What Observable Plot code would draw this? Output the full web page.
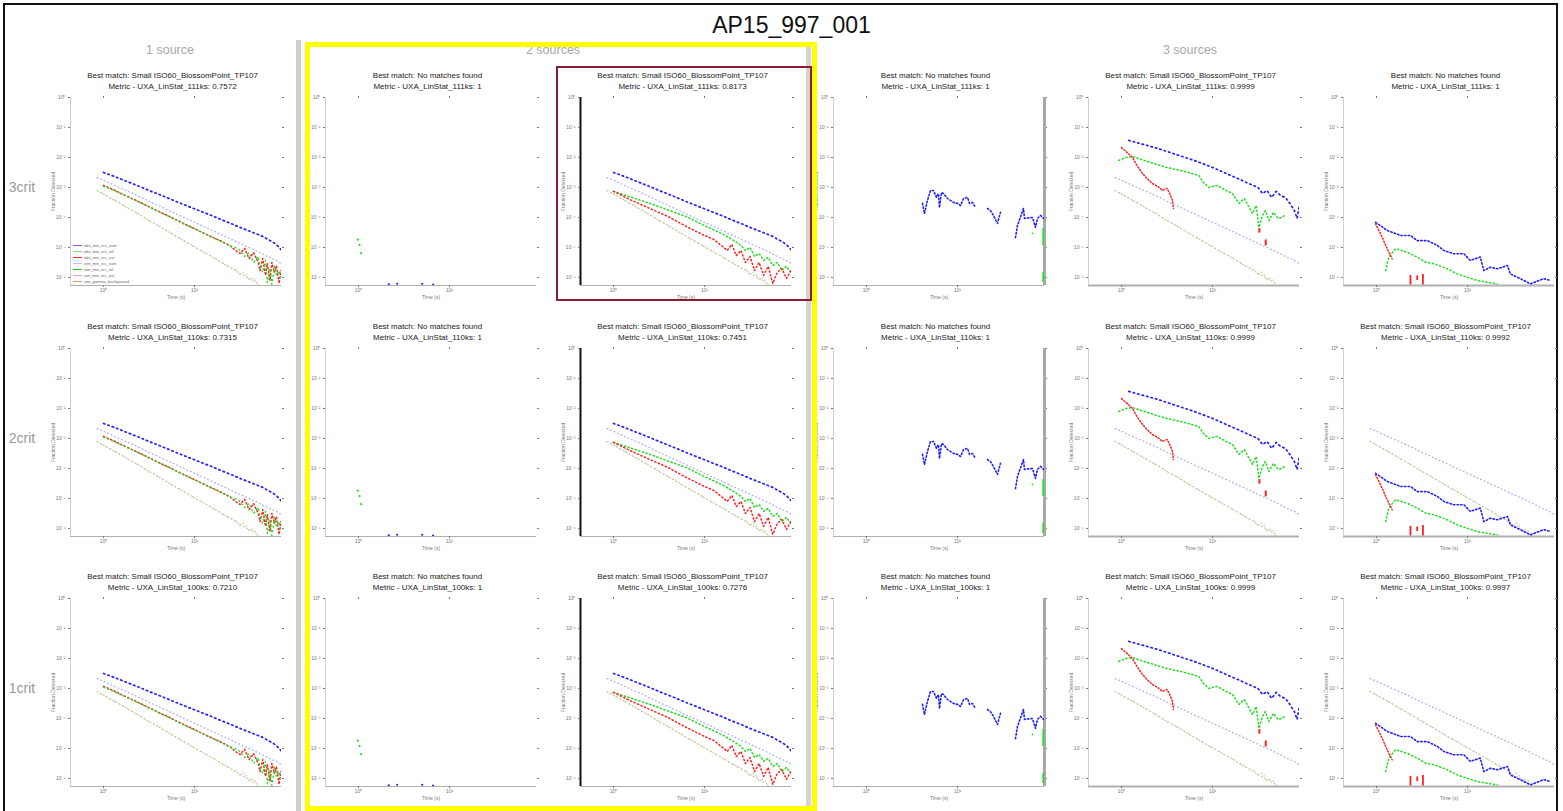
<!DOCTYPE html>
<html><head><meta charset="utf-8">
<script src="https://cdn.jsdelivr.net/npm/d3@7"></script>
<script src="https://cdn.jsdelivr.net/npm/@observablehq/plot@0.6"></script>
<style>
html,body{margin:0;padding:0;background:#fff;}
#page{position:relative;width:1563px;height:811px;overflow:hidden;background:#fff;font-family:"Liberation Sans",Arial,sans-serif;}
svg{overflow:visible;}
</style></head>
<body><div id="page"></div>
<script>
// ---------- text ----------
const figTitle = "AP15_997_001";
const rowLabels = ["3crit", "2crit", "1crit"];
const sourceHeaders = ["1 source", "2 sources", "3 sources"];
const metricNames = ["UXA_LinStat_111ks", "UXA_LinStat_110ks", "UXA_LinStat_100ks"];
const bestMatches = [
  ["Small ISO60_BlossomPoint_TP107", "No matches found", "Small ISO60_BlossomPoint_TP107", "No matches found", "Small ISO60_BlossomPoint_TP107", "No matches found"],
  ["Small ISO60_BlossomPoint_TP107", "No matches found", "Small ISO60_BlossomPoint_TP107", "No matches found", "Small ISO60_BlossomPoint_TP107", "Small ISO60_BlossomPoint_TP107"],
  ["Small ISO60_BlossomPoint_TP107", "No matches found", "Small ISO60_BlossomPoint_TP107", "No matches found", "Small ISO60_BlossomPoint_TP107", "Small ISO60_BlossomPoint_TP107"]
];
const metricValues = [
  ["0.7572", "1", "0.8173", "1", "0.9999", "1"],
  ["0.7315", "1", "0.7451", "1", "0.9999", "0.9992"],
  ["0.7210", "1", "0.7276", "1", "0.9999", "0.9997"]
];
const legendLabels = ["obs_min_src_sum", "obs_min_src_ref", "obs_min_src_evt", "sim_min_src_sum", "sim_min_src_ref", "sim_min_src_evt", "sim_gamma_background"];
const xLabel = "Time (s)";
const yLabel = "Fraction Detected";

// ---------- scales ----------
const xTicks = [1, 10];
const yTicks = [1e-6, 1e-5, 1e-4, 1e-3, 1e-2, 1e-1, 1];
const xDomain = [0.4335, 90.4];
const yDomain = [5.4e-7, 1];

// ---------- series: [log10 time, log10 fraction] ----------
const darkBlueA = [[0,-2.5],[0.1,-2.61],[0.2,-2.73],[0.3,-2.85],[0.4,-2.97],[0.5,-3.1],[0.6,-3.22],[0.7,-3.34],[0.8,-3.47],[0.9,-3.59],[1.0,-3.71],[1.1,-3.83],[1.2,-3.95],[1.3,-4.08],[1.4,-4.2],[1.5,-4.33],[1.6,-4.45],[1.7,-4.57],[1.75,-4.63],[1.8,-4.72],[1.85,-4.8],[1.9,-4.9],[1.95,-5.07]];
const lightBlueA = [[-0.07,-2.67],[0,-2.76],[0.1,-2.9],[0.2,-3.04],[0.3,-3.17],[0.4,-3.31],[0.5,-3.46],[0.6,-3.6],[0.7,-3.74],[0.8,-3.88],[0.9,-4.02],[1.0,-4.16],[1.1,-4.3],[1.2,-4.44],[1.3,-4.58],[1.4,-4.72],[1.5,-4.86],[1.6,-5.0],[1.7,-5.14],[1.8,-5.3],[1.9,-5.43],[1.95,-5.53]];
const redA = [[0,-2.93],[0.1,-3.06],[0.2,-3.21],[0.3,-3.35],[0.4,-3.49],[0.5,-3.64],[0.6,-3.79],[0.7,-3.93],[0.8,-4.08],[0.9,-4.23],[1.0,-4.37],[1.1,-4.52],[1.2,-4.66],[1.3,-4.8],[1.4,-4.96],[1.45,-5.1],[1.5,-5.2],[1.55,-5.03],[1.6,-5.37],[1.65,-5.17],[1.7,-5.5],[1.72,-5.77],[1.75,-5.37],[1.78,-5.93],[1.8,-5.53],[1.83,-6.1],[1.85,-5.5],[1.88,-5.83],[1.9,-5.6],[1.93,-6.2],[1.95,-5.77]];
const greenA = [[0,-2.96],[0.1,-3.08],[0.2,-3.22],[0.3,-3.36],[0.4,-3.5],[0.5,-3.65],[0.6,-3.8],[0.7,-3.94],[0.8,-4.09],[0.9,-4.24],[1.0,-4.38],[1.1,-4.53],[1.2,-4.67],[1.3,-4.81],[1.4,-4.97],[1.45,-5.0],[1.5,-5.1],[1.55,-5.3],[1.6,-5.17],[1.65,-5.5],[1.7,-5.3],[1.72,-5.63],[1.75,-5.83],[1.78,-5.43],[1.8,-6.17],[1.83,-5.7],[1.85,-6.23],[1.88,-5.63],[1.9,-5.93],[1.93,-5.77],[1.95,-6.1]];
const lowerPinkA = [[-0.07,-3.1],[0,-3.22],[0.1,-3.39],[0.2,-3.56],[0.3,-3.74],[0.4,-3.91],[0.5,-4.1],[0.6,-4.27],[0.7,-4.45],[0.8,-4.63],[0.9,-4.8],[1.0,-4.98],[1.1,-5.15],[1.2,-5.32],[1.3,-5.5],[1.4,-5.68],[1.5,-5.86],[1.6,-6.03],[1.7,-6.21]];
const lowerGreenA = [[-0.07,-3.1],[0,-3.22],[0.1,-3.39],[0.2,-3.56],[0.3,-3.74],[0.4,-3.91],[0.5,-4.1],[0.6,-4.27],[0.7,-4.45],[0.8,-4.63],[0.9,-4.8],[1.0,-4.98],[1.1,-5.15],[1.2,-5.32],[1.3,-5.5],[1.4,-5.68],[1.45,-5.72],[1.5,-5.9],[1.55,-5.8],[1.6,-6.1],[1.65,-6.0],[1.7,-6.25]];
const greenB = [[0,-3.13],[0.2,-3.33],[0.4,-3.53],[0.6,-3.75],[0.8,-3.97],[1.0,-4.27],[1.2,-4.55],[1.3,-4.73],[1.4,-4.93],[1.45,-5.1],[1.5,-5.0],[1.55,-5.3],[1.6,-5.2],[1.65,-5.43],[1.7,-5.33],[1.75,-5.6],[1.8,-5.5],[1.85,-5.77],[1.9,-5.63],[1.95,-5.83]];
const redB = [[0,-3.13],[0.2,-3.43],[0.4,-3.7],[0.6,-3.97],[0.8,-4.3],[1.0,-4.6],[1.1,-4.73],[1.2,-4.97],[1.25,-5.1],[1.3,-4.9],[1.35,-5.27],[1.4,-5.1],[1.45,-5.5],[1.5,-5.3],[1.55,-5.77],[1.6,-5.5],[1.65,-5.93],[1.7,-5.63],[1.75,-6.2],[1.8,-5.83],[1.85,-5.7],[1.9,-6.03],[1.95,-5.77]];
const darkBlueC = [[0.08,-1.43],[0.2,-1.53],[0.4,-1.7],[0.6,-1.9],[0.8,-2.1],[1.0,-2.33],[1.2,-2.6],[1.3,-2.73],[1.4,-2.87],[1.5,-3.0],[1.55,-3.2],[1.6,-3.1],[1.65,-3.33],[1.7,-3.13],[1.75,-3.27],[1.8,-3.33],[1.85,-3.53],[1.9,-3.77],[1.93,-4.03],[1.95,-3.67]];
const greenC = [[-0.03,-2.1],[0.05,-2.0],[0.12,-1.97],[0.25,-2.1],[0.48,-2.32],[0.7,-2.47],[0.85,-2.6],[0.9,-2.83],[0.96,-3.0],[1.05,-2.93],[1.15,-3.1],[1.22,-3.2],[1.29,-3.53],[1.35,-3.37],[1.44,-3.87],[1.48,-3.6],[1.51,-4.33],[1.55,-3.93],[1.58,-3.77],[1.62,-4.1],[1.67,-3.83],[1.72,-4.03],[1.77,-4.0],[1.8,-3.9]];
const redC = [[0,-1.67],[0.06,-1.83],[0.12,-2.0],[0.17,-2.27],[0.23,-2.53],[0.28,-2.7],[0.34,-2.87],[0.4,-2.97],[0.45,-3.1],[0.5,-3.03],[0.53,-3.2],[0.56,-3.43],[0.57,-3.7]];
const redSpikesC = [[1.515,-4.37,-4.52],[1.585,-4.75,-4.95]];
const darkBlueD = [[-0.01,-4.16],[0.117,-4.43],[0.263,-4.6],[0.373,-4.6],[0.447,-4.77],[0.557,-4.77],[0.667,-4.93],[0.74,-5.1],[0.85,-5.21],[0.96,-5.21],[1.03,-5.43],[1.14,-5.32],[1.18,-5.77],[1.25,-5.66],[1.33,-5.71],[1.44,-5.6],[1.47,-5.88],[1.58,-6.04],[1.69,-6.21],[1.84,-6.04],[1.91,-6.1]];
const greenD = [[0.1,-5.77],[0.135,-5.32],[0.208,-5.04],[0.337,-5.16],[0.447,-5.32],[0.538,-5.49],[0.63,-5.54],[0.777,-5.71],[0.886,-5.88],[0.996,-5.99],[1.106,-6.1],[1.216,-6.16],[1.326,-6.21]];
const redD = [[-0.011,-4.21],[0.044,-4.54],[0.117,-5.04],[0.172,-5.38]];
const redSpikesD = [[0.373,-5.93,-6.25],[0.447,-5.95,-6.1],[0.51,-5.9,-6.25]];
const blueF1 = [[0.615,-3.53],[0.637,-3.87],[0.67,-3.43],[0.703,-3.1],[0.736,-3.1],[0.769,-3.33],[0.791,-3.2],[0.802,-3.67],[0.824,-3.17],[0.846,-3.2],[0.89,-3.37],[0.923,-3.43],[0.956,-3.5],[1.0,-3.53],[1.033,-3.6],[1.066,-3.37],[1.11,-3.33],[1.132,-3.53],[1.165,-3.5],[1.198,-3.67]];
const blueF2 = [[1.33,-3.7],[1.362,-3.77],[1.395,-3.93],[1.439,-4.2],[1.472,-3.83]];
const blueF3 = [[1.637,-4.67],[1.659,-4.27],[1.725,-3.7],[1.736,-4.03],[1.824,-4.0],[1.857,-4.33],[1.879,-4.03],[1.912,-3.93],[1.945,-4.03]];
const greenSpikesF = [[1.945,-4.37,-4.93],[1.945,-5.83,-6.17]];
const greenDotF = [[1.824,-4.53]];
const greenG = [[-0.008,-4.74],[0.011,-4.92],[0.029,-5.19]];
const blueG = [[0.333,-6.23],[0.425,-6.21],[0.7,-6.21],[0.82,-6.24]];

// ---------- colours ----------
const C = {
  darkBlue: "#2020ff", lightBlue: "#a5a5ff", red: "#ff2020", green: "#22dd22",
  pink: "#ff9d9d", lightGreen: "#8ee88e", orange: "#d8a060"
};

// ---------- helpers ----------
const page = document.getElementById("page");
function el(tag, css, text) {
  const e = document.createElement(tag);
  e.style.cssText = css;
  if (text != null) e.textContent = text;
  page.appendChild(e);
  return e;
}
const supMap = {"-":"⁻","0":"⁰","1":"¹","2":"²","3":"³","4":"⁴","5":"⁵","6":"⁶","7":"⁷","8":"⁸","9":"⁹"};
const powFmt = d => "10" + String(Math.round(Math.log10(d))).split("").map(ch => supMap[ch]).join("");
const pts = arr => arr.map(([lt, ly]) => ({t: 10 ** lt, v: 10 ** ly}));
const spikes = arr => arr.map(([lt, a, b]) => ({t: 10 ** lt, v1: 10 ** a, v2: 10 ** b}));
const line = (arr, stroke, w, dash) => Plot.line(pts(arr), {x: "t", y: "v", stroke, strokeWidth: w, strokeDasharray: dash, strokeLinecap: "round", clip: true});
const spike = (arr, stroke, w) => Plot.ruleX(spikes(arr), {x: "t", y1: "v1", y2: "v2", stroke, strokeWidth: w, clip: true});
const dots = (arr, fill, r) => Plot.dot(pts(arr), {x: "t", y: "v", fill, r, clip: true});

const DASH_DARK = "1.4 3.2", DASH_LIGHT = "0.8 3", DASH_OBS = "1.2 2.6", DASH_LOW = "0.8 2.8";

function seriesFor(r, c) {
  const lowerMarks = [line(lowerPinkA, C.pink, 1.1, DASH_LOW), line(lowerGreenA, C.lightGreen, 1.1, "0.8 4.2")];
  const lb = line(lightBlueA, C.lightBlue, 1.2, DASH_LIGHT);
  if (c === 0) return [...lowerMarks, lb, line(darkBlueA, C.darkBlue, 1.7, DASH_DARK), line(redA, C.red, 1.5, DASH_OBS), line(greenA, C.green, 1.4, "1 3.4")];
  if (c === 1) return [dots(greenG, C.green, 1.1), dots(blueG, C.darkBlue, 1.1)];
  if (c === 2) return [...lowerMarks, lb, line(darkBlueA, C.darkBlue, 1.7, DASH_DARK), line(greenB, C.green, 1.5, DASH_OBS), line(redB, C.red, 1.5, DASH_OBS)];
  if (c === 3) return [line(blueF1, C.darkBlue, 1.6, "1.4 2.2"), line(blueF2, C.darkBlue, 1.6, "1.4 2.2"), line(blueF3, C.darkBlue, 1.6, "1.4 2.2"), spike(greenSpikesF, C.green, 2.2), dots(greenDotF, C.green, 0.9)];
  if (c === 4) return [...lowerMarks, lb, line(darkBlueC, C.darkBlue, 1.7, DASH_DARK), line(greenC, C.green, 1.5, DASH_OBS), line(redC, C.red, 1.5, "1.2 2"), spike(redSpikesC, C.red, 2)];
  const d = [line(darkBlueD, C.darkBlue, 1.6, "1.4 2.2"), line(greenD, C.green, 1.5, DASH_OBS), line(redD, C.red, 1.5, "1.2 2"), spike(redSpikesD, C.red, 1.8)];
  return r === 0 ? d : [...lowerMarks, lb, ...d];
}

// ---------- layout ----------
const frameLefts = [70, 325, 580, 833, 1088, 1343];
const frameTops = [97, 348, 598];
const FW = 211, FH = 188, ML = 24, MR = 6, MT = 6, MB = 18;

el("div", "position:absolute;left:3px;top:3px;width:1555px;height:820px;border:2px solid #111;box-sizing:border-box;");
el("div", "position:absolute;left:0;width:1563px;top:12px;text-align:center;font-size:23px;color:#111;padding-left:20px;box-sizing:border-box;", figTitle);
el("div", "position:absolute;left:296px;top:40px;width:5px;height:780px;background:#cfcfcf;");
el("div", "position:absolute;left:806px;top:44px;width:5px;height:780px;background:#d4d4d4;");
const headerCenters = [170, 553, 1190];
sourceHeaders.forEach((h, i) => el("div", `position:absolute;left:${headerCenters[i] - 80}px;width:160px;top:43px;text-align:center;font-size:12.5px;color:#a8a8a8;`, h));
rowLabels.forEach((h, i) => el("div", `position:absolute;left:2px;width:40px;top:${frameTops[i] + 82}px;text-align:center;font-size:14px;color:#9a9a9a;`, h));

for (let r = 0; r < 3; r++) {
  for (let c = 0; c < 6; c++) {
    const L = frameLefts[c], T = frameTops[r];
    const t = el("div", `position:absolute;left:${L + FW / 2 - 123}px;width:240px;top:${T - 27}px;font-size:8px;line-height:11px;color:#222;text-align:center;white-space:nowrap;`);
    const l1 = document.createElement("div"); l1.textContent = "Best match: " + bestMatches[r][c];
    const l2 = document.createElement("div"); l2.textContent = "Metric - " + metricNames[r] + ": " + metricValues[r][c];
    t.appendChild(l1); t.appendChild(l2);

    const bottomW = (c >= 4) ? 2.2 : 1;
    const marks = [
      Plot.ruleY([yDomain[0]], {stroke: "#b0b0b0", strokeWidth: bottomW}),
      Plot.ruleX([xDomain[0]], {stroke: c === 2 ? "#111" : "#d0d0d0", strokeWidth: c === 2 ? 2 : 1}),
      Plot.axisX(xTicks, {tickFormat: powFmt, tickSize: 2, tickPadding: 1, fontSize: 5, label: xLabel, labelAnchor: "center", labelOffset: 13, labelArrow: "none"}),
      Plot.axisY(yTicks, {tickFormat: powFmt, tickSize: 2, tickPadding: 3, fontSize: 5, label: yLabel, labelAnchor: "center", labelOffset: 19, labelArrow: "none"}),
      Plot.axisX(xTicks, {anchor: "top", tickSize: 2, tickFormat: () => "", label: null}),
      Plot.axisY(yTicks, {anchor: "right", tickSize: 2, tickFormat: () => "", label: null})
    ];
    if (c === 3) marks.push(Plot.ruleX([xDomain[1]], {stroke: "#a8a8a8", strokeWidth: 3}));
    marks.push(...seriesFor(r, c));

    const svg = Plot.plot({
      width: FW + ML + MR, height: FH + MT + MB,
      marginLeft: ML, marginRight: MR, marginTop: MT, marginBottom: MB,
      style: {fontSize: "5px", fontFamily: "Liberation Sans, Arial, sans-serif", color: "#777", background: "transparent", overflow: "visible"},
      x: {type: "log", domain: xDomain, axis: null},
      y: {type: "log", domain: yDomain, axis: null},
      marks
    });
    const holder = el("div", `position:absolute;left:${L - ML}px;top:${T - MT}px;`);
    holder.appendChild(svg);
  }
}

const legendColors = ["#6a6aff", "#7fe07f", "#ff3030", "#c0c0ff", "#22cc22", "#ff9d9d", "#d8a060"];
legendLabels.forEach((lab, i) => {
  const y = 243 + i * 6;
  el("div", `position:absolute;left:73px;top:${y + 2}px;width:9px;height:1.3px;background:${legendColors[i]};`);
  el("div", `position:absolute;left:84px;top:${y - 0.5}px;font-size:4px;line-height:5px;color:#666;white-space:nowrap;`, lab);
});

el("div", "position:absolute;left:305px;top:42px;width:512px;height:769px;border:5px solid #ffff00;box-sizing:border-box;");
el("div", "position:absolute;left:556px;top:66px;width:256px;height:235px;border:2.5px solid #8c1c36;box-sizing:border-box;");
</script>
</body></html>
